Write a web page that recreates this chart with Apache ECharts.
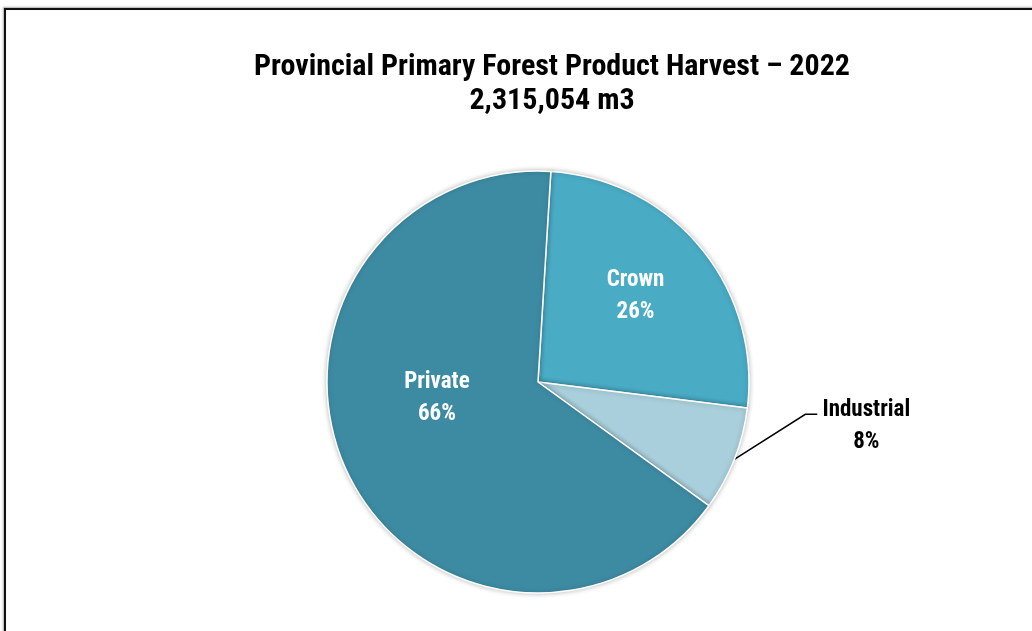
<!DOCTYPE html>
<html>
<head>
<meta charset="utf-8">
<title>Provincial Primary Forest Product Harvest – 2022</title>
<script src="https://cdn.jsdelivr.net/npm/echarts@6/dist/echarts.min.js"></script>
<style>
  html, body { margin: 0; padding: 0; background: #fff; overflow: hidden; }
  #chart { width: 1032px; height: 631px; }
</style>
</head>
<body>
<div id="chart"></div>
<script>
// Harvest share by land ownership, 2022 (percent of total volume)
const titleLines = ['Provincial Primary Forest Product Harvest \u2013 2022', '2,315,054 m3'];
const categories = ['Crown', 'Industrial', 'Private'];
const shares = [26, 8, 66];
const sliceColors = ['#4aabc5', '#a8cfdb', '#3d8ba3'];

const FONT = "'Roboto Condensed', 'Liberation Sans Narrow', 'DejaVu Sans Condensed', sans-serif";

// per-slice label placement
const labelStyles = {
  Crown:   { position: 'inside', color: '#fff', offset: [14, -16] },
  Private: { position: 'inside', color: '#fff', offset: [-3, -30] },
  Industrial: { position: 'outside', color: '#000' }
};

const chart = echarts.init(document.getElementById('chart'), null, { renderer: 'canvas' });

const seriesData = categories.map((name, i) => ({
  name,
  value: shares[i],
  itemStyle: { color: sliceColors[i] },
  label: labelStyles[name],
  labelLine: { show: labelStyles[name].position === 'outside' }
}));

chart.setOption({
  backgroundColor: '#fff',
  animation: false,
  graphic: [{
    type: 'rect',
    silent: true,
    shape: { x: 5, y: 9, width: 1200, height: 800 },
    style: {
      fill: 'none', stroke: '#111', lineWidth: 2,
      shadowColor: 'rgba(0,0,0,0.35)', shadowBlur: 2, shadowOffsetX: -1, shadowOffsetY: -1
    }
  }],
  title: {
    text: titleLines.join('\n'),
    left: 547,
    top: 45,
    textAlign: 'center',
    textStyle: {
      fontFamily: FONT, fontWeight: 'bold', fontSize: 30, lineHeight: 34, color: '#000'
    }
  },
  series: [{
    type: 'pie',
    center: [538, 382],
    radius: 211,
    startAngle: 86.5,
    clockwise: true,
    avoidLabelOverlap: false,
    itemStyle: {
      borderColor: '#fff', borderWidth: 1.5,
      shadowColor: 'rgba(0,0,0,0.25)', shadowBlur: 5
    },
    label: {
      formatter: '{b}\n{c}%',
      fontFamily: FONT, fontWeight: 'bold', fontSize: 23, lineHeight: 32,
      align: 'center'
    },
    labelLine: {
      lineStyle: { color: '#000', width: 1.5 }
    },
    labelLayout: function (params) {
      if (params.dataIndex !== categories.indexOf('Industrial') || !params.labelLinePoints) {
        return {};
      }
      const a = params.labelLinePoints[0];
      return {
        x: a[0] + 132,
        y: a[1] - 33,
        align: 'center',
        verticalAlign: 'middle',
        labelLinePoints: [
          [a[0], a[1]],
          [a[0] + 71, a[1] - 45],
          [a[0] + 83, a[1] - 45]
        ]
      };
    },
    emphasis: { disabled: true },
    data: seriesData
  }]
});
</script>
</body>
</html>
